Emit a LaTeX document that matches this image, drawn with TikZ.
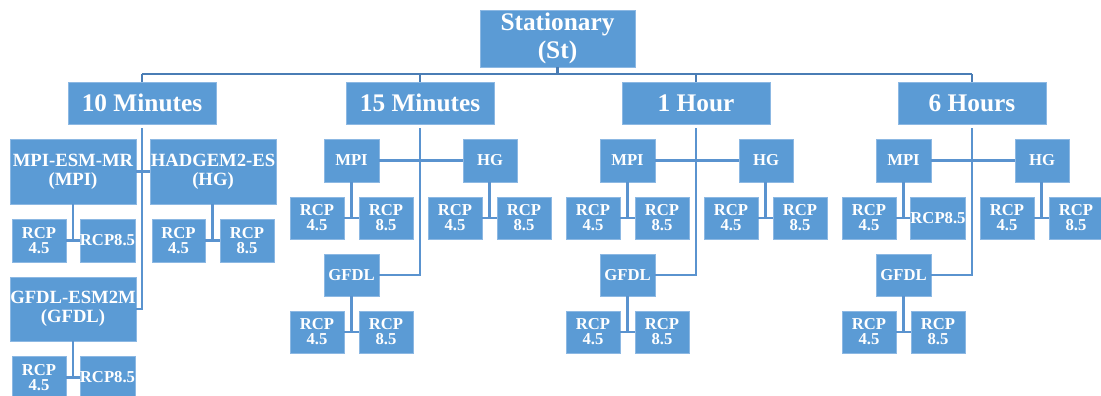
\documentclass[tikz,border=0pt]{standalone}
\usepackage{fontspec}
\setmainfont{Liberation Serif}
\usetikzlibrary{calc}

\definecolor{boxblue}{HTML}{5B9BD5}
\definecolor{boxedge}{HTML}{8CB8E3}
\definecolor{busline}{HTML}{4A7DB5}
\definecolor{linkline}{HTML}{5A93CF}

% box placed by its corners: style, name, x1, y1, x2, y2, text
\newcommand\blk[7]{%
  \node[#1, minimum width={((#5)-(#3))*0.75pt}, minimum height={((#6)-(#4))*0.75pt}]
    (#2) at ({((#3)+(#5))/2},{((#4)+(#6))/2}) {#7};}

% one scenario branch (MPI, HG, GFDL with their RCP pairs) under a period box
% #1 prefix, #2 centre x, #3 period box, #4 text of the MPI RCP 8.5 box
\newcommand\branch[4]{%
  \blk{small}{#1mpi}{#2-96}{139}{#2-41}{182}{MPI}
  \blk{small}{#1hg}{#2+43}{139}{#2+97}{182}{HG}
  \blk{small}{#1gf}{#2-96}{254}{#2-41}{296}{GFDL}
  \blk{small}{#1ma}{#2-130}{197}{#2-76}{239}{RCP\\4.5}
  \blk{small}{#1mb}{#2-61}{197}{#2-7}{239}{#4}
  \blk{small}{#1ha}{#2+8}{197}{#2+62}{239}{RCP\\4.5}
  \blk{small}{#1hb}{#2+77}{197}{#2+131}{239}{RCP\\8.5}
  \blk{small}{#1ga}{#2-130}{311}{#2-76}{353}{RCP\\4.5}
  \blk{small}{#1gb}{#2-61}{311}{#2-7}{353}{RCP\\8.5}
  \draw[link, shorten <=3pt] (#3.south) |- (#1gf.east);
  \draw[link] (#1mpi.east) -- (#1hg.west);
  \pair{#1mpi}{#1ma}{#1mb}
  \pair{#1hg}{#1ha}{#1hb}
  \pair{#1gf}{#1ga}{#1gb}
}

% parent box joined to the gap between its two children
\newcommand\pair[3]{%
  \coordinate (#1-j) at ($(#2.east)!0.5!(#3.west)$);
  \draw[link] (#1.south -| #1-j) -- (#1-j);
  \draw[link] (#2.east) -- (#3.west);
}

\begin{document}
\begin{tikzpicture}[x=0.75pt, y=-0.75pt,
  base/.style={draw=boxedge, line width=0.5pt, fill=boxblue, text=white,
    align=center, inner sep=0pt, outer sep=0pt},
  big/.style={base, font=\fontsize{19}{21.5}\selectfont\bfseries},
  mid/.style={base, font=\fontsize{14}{14.5}\selectfont\bfseries},
  small/.style={base, font=\fontsize{12.5}{11.2}\selectfont\bfseries},
  link/.style={draw=linkline, line width=2.2pt},
  bus/.style={draw=busline, line width=2.2pt}]
\useasboundingbox (0,0) rectangle (1101,396);

% root and period boxes
\blk{big}{st}{480}{10}{635}{67}{Stationary\\(St)}
\blk{big}{p1}{68}{82}{216}{124}{10 Minutes}
\blk{big}{p2}{346}{82}{494}{124}{15 Minutes}
\blk{big}{p3}{622}{82}{770}{124}{1 Hour}
\blk{big}{p4}{898}{82}{1046}{124}{6 Hours}

% bus joining the root to the period boxes
\coordinate (busy) at (0,74);
\draw[bus] (p1.north |- busy) -- (p4.north |- busy);
\draw[bus] (st.south) -- (st.south |- busy);
\foreach \p in {p1,p2,p3,p4}
  \draw[bus] (\p.north |- busy) -- (\p.north);

% 10 Minutes branch with full model names
\blk{mid}{tmpi}{10}{139}{136}{204}{MPI-ESM-MR\\(MPI)}
\blk{mid}{thg}{150}{139}{276}{204}{HADGEM2-ES\\(HG)}
\blk{mid}{tgf}{10}{277}{136}{341}{GFDL-ESM2M\\(GFDL)}
\blk{small}{tma}{12}{219}{66}{262}{RCP\\4.5}
\blk{small}{tmb}{80}{219}{135}{262}{RCP8.5}
\blk{small}{tha}{152}{219}{205}{262}{RCP\\4.5}
\blk{small}{thb}{220}{219}{274}{262}{RCP\\8.5}
\blk{small}{tga}{12}{356}{66}{399}{RCP\\4.5}
\blk{small}{tgb}{80}{356}{135}{399}{RCP8.5}
\draw[link, shorten <=3pt] (p1.south) |- (tgf.east);
\draw[link] (tmpi.east) -- (thg.west);
\pair{tmpi}{tma}{tmb}
\pair{thg}{tha}{thb}
\pair{tgf}{tga}{tgb}

% remaining branches
\branch{b}{420}{p2}{RCP\\8.5}
\branch{c}{696}{p3}{RCP\\8.5}
\branch{d}{972}{p4}{RCP8.5}
\end{tikzpicture}
\end{document}
